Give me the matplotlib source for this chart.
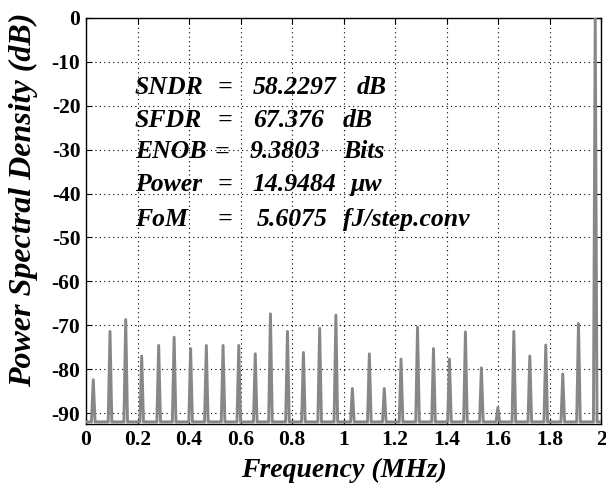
import numpy as np
import matplotlib

matplotlib.use("Agg")
import matplotlib.pyplot as plt

# spectrum peaks (MHz, dB)
spike_freq = [0.028, 0.093, 0.154, 0.216, 0.282, 0.342, 0.406, 0.467, 0.532,
              0.593, 0.657, 0.716, 0.782, 0.844, 0.907, 0.970, 1.034, 1.100,
              1.158, 1.223, 1.287, 1.349, 1.411, 1.473, 1.535, 1.599, 1.661,
              1.723, 1.785, 1.851, 1.912, 1.977]
spike_db = [-82.4, -71.4, -68.7, -77.0, -74.6, -72.7, -75.3, -74.6, -74.6,
            -74.6, -76.5, -67.4, -71.4, -76.2, -70.7, -67.7, -84.4, -76.5,
            -84.4, -77.7, -70.4, -75.3, -77.7, -71.5, -79.7, -88.7, -71.4,
            -77.0, -74.5, -81.1, -69.6, 0.0]
floor_db = -92.0
bin_half_width = 0.007

metric_names = ["SNDR", "SFDR", "ENOB", "Power", "FoM"]
metric_values = ["58.2297", "67.376", "9.3803", "14.9484", "5.6075"]
metric_units = ["dB", "dB", "Bits", "\u03bcw", "fJ/step.conv"]

xticks = [0, 0.2, 0.4, 0.6, 0.8, 1.0, 1.2, 1.4, 1.6, 1.8, 2.0]
xtick_labels = ["0", "0.2", "0.4", "0.6", "0.8", "1", "1.2", "1.4", "1.6", "1.8", "2"]
yticks = [0, -10, -20, -30, -40, -50, -60, -70, -80, -90]

# build the trace: each peak is a single FFT bin rising from the noise floor
trace_x = [0.0]
trace_y = [floor_db]
for f, level in zip(spike_freq, spike_db):
    trace_x += [f - bin_half_width, f, f + bin_half_width]
    trace_y += [floor_db, level, floor_db]
trace_x.append(2.0)
trace_y.append(floor_db)

serif = ["Liberation Serif", "DejaVu Serif"]
plt.rcParams["font.family"] = serif
plt.rcParams["axes.unicode_minus"] = False

fig = plt.figure(figsize=(6.06, 4.96), dpi=100)
ax = fig.add_axes([0.142, 0.145, 0.850, 0.819])

ax.plot(trace_x, trace_y, color="#878787", linewidth=2.1, zorder=3)

ax.set_xlim(0, 2)
ax.set_ylim(-92.5, 0)
ax.set_xticks(xticks)
ax.set_xticklabels(xtick_labels)
ax.set_yticks(yticks)
ax.grid(True, color="black", linestyle=(0, (1, 3)), linewidth=0.8)
ax.tick_params(direction="in", top=True, right=True, length=4, width=0.8,
               labelsize=15.5, pad=4)
for lab in ax.get_xticklabels() + ax.get_yticklabels():
    lab.set_fontweight("bold")
for sp in ax.spines.values():
    sp.set_linewidth(1.0)

ax.set_xlabel("Frequency (MHz)", fontsize=20, fontweight="bold",
              fontstyle="italic", labelpad=6)
ax.set_ylabel("Power Spectral Density (dB)", fontsize=23, fontweight="bold",
              fontstyle="italic")
ax.yaxis.set_label_coords(-0.094, 0.552)

row_y = [-15.9, -23.4, -30.5, -38.0, -45.9]
eq_x = [0.509, 0.509, 0.497, 0.509, 0.509]
val_x = [0.649, 0.649, 0.637, 0.645, 0.664]
unit_x = [1.052, 0.998, 0.998, 1.025, 0.998]
style = dict(fontsize=18.5, fontweight="bold", fontstyle="italic", va="center",
             ha="left", zorder=5)
for i in range(len(metric_names)):
    ax.text(0.190, row_y[i], metric_names[i], **style)
    ax.text(eq_x[i], row_y[i], "=", **style)
    ax.text(val_x[i], row_y[i], metric_values[i], **style)
    ax.text(unit_x[i], row_y[i], metric_units[i], **style)

fig.savefig("out.png", dpi=100)
